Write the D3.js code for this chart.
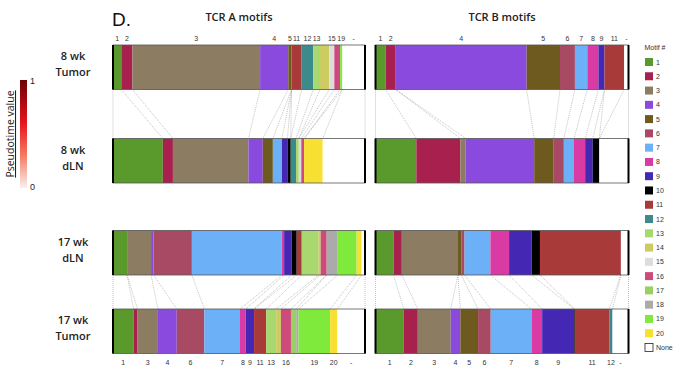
<!DOCTYPE html>
<html><head><meta charset="utf-8">
<script src="https://cdn.jsdelivr.net/npm/d3@7"></script>
<style>body{margin:0;background:#fff}svg{display:block}</style>
</head><body>
<script>
// ---- DATA ----
const motifs = ["1","2","3","4","5","6","7","8","9","10","11","12","13","14","15","16","17","18","19","20","None"];
const motifColors = ["#5a9a2c","#a8204e","#8c7c62","#8b4ade","#6e5a1e","#a84a64","#6cb0f8","#da3aa4","#4428b4","#000000","#a83a3a","#3c8a8c","#a8d870","#cccc62","#dcdcdc","#cc4a7c","#9ad062","#aaaaaa","#80ea3c","#f8e032","#ffffff"];
const rows = ["8 wk Tumor","8 wk dLN","17 wk dLN","17 wk Tumor"];
const rowLabels = [["8 wk","Tumor"],["8 wk","dLN"],["17 wk","dLN"],["17 wk","Tumor"]];
const chains = ["TCR A motifs","TCR B motifs"];
//                 1    2    3    4    5    6    7    8    9   10   11   12   13   14   15   16   17   18   19   20  None
const tcrA_8wkTumor  = [3.3,4.4,50.8,11.2,1.3,0,  0,  0,  0,  0,  4.0,4.6,2.7,3.7,2.0,2.3,0,  0,  0.9,0,  9.0];
const tcrA_8wkDLN    = [19.8,4.0,30.0,5.7,4.0,0,  3.6,0,  2.2,1.3,0,  2.1,1.1,0,  1.0,1.1,0,  0,  0,  7.4,16.8];
const tcrA_17wkDLN   = [5.6,0,  9.5,1.0,0,  15.2,35.7,0.9,3.0,2.0,2.0,0, 6.6,0.9,0,  2.4,0,  4.4,7.5,2.0,1.3];
const tcrA_17wkTumor = [8.2,1.6,8.1,7.5,0,  11.0,14.2,2.3,3.3,0, 4.8,0,  4.0,1.9,0,  4.0,2.1,0.9,12.6,2.9,11.0];
const tcrB_8wkTumor  = [4.0,4.0,0,  51.8,13.2,5.9,4.9,4.4,2.4,0, 7.8,0,  0,  0,  0,  0,  0,  0,  0,  0,  1.7];
const tcrB_8wkDLN    = [16.1,17.4,2.1,27.0,7.7,4.0,4.0,4.4,3.0,2.6,0,0,  0,  0,  0,  0,  0,  0,  0,  0,  11.5];
const tcrB_17wkDLN   = [7.1,3.3,22.2,0,  1.3,1.3,10.2,7.4,8.9,3.3,32.0,0,0,  0,  0,  0,  0,  0,  0,  0,  3.0];
const tcrB_17wkTumor = [11.2,5.5,13.0,3.8,7.0,5.0,16.1,4.2,12.6,0.3,13.6,1.3,0,0,  0,  0,  0,  0,  0,  0,  6.3];
const topLabelsA = ["1","2","3","4","5","11","12","13","15","19","None"];
const topLabelsB = ["1","2","4","5","6","7","8","9","11","None"];
const bottomLabelsA = ["1","3","4","6","7","8","9","11","13","16","19","20","None"];
const bottomLabelsB = ["1","2","3","4","5","6","7","8","9","11","12","None"];
const pairs = [[0,1],[2,3]];

const data = {
  "TCR A motifs": [tcrA_8wkTumor, tcrA_8wkDLN, tcrA_17wkDLN, tcrA_17wkTumor],
  "TCR B motifs": [tcrB_8wkTumor, tcrB_8wkDLN, tcrB_17wkDLN, tcrB_17wkTumor]
};
const labelSets = {
  "TCR A motifs": [topLabelsA, bottomLabelsA],
  "TCR B motifs": [topLabelsB, bottomLabelsB]
};

// ---- LAYOUT ----
const W = 688, H = 387;
const svg = d3.select("body").append("svg").attr("width", W).attr("height", H);
const font = "'Open Sans', 'Liberation Sans', Arial, sans-serif";
const font2 = "'Liberation Sans', Arial, sans-serif";

const color = d3.scaleOrdinal(motifs, motifColors);
const panelX = d3.scaleOrdinal(chains, [[113, 365], [375.5, 628.5]]);
const rowY = d3.scaleOrdinal(rows, [45, 138.5, 230.5, 309]);
const barH = 44.5;

function segs(vals, x) {
  const total = d3.sum(vals);
  let acc = 0;
  return motifs.map((m, i) => {
    const s = acc; acc += vals[i];
    return {m, v: vals[i], x0: x(s / total), x1: x(acc / total)};
  });
}

// headline
svg.append("text").attr("x", 112).attr("y", 26).attr("font-family", font2)
  .attr("font-size", 19).attr("fill", "#111").text("D.");

chains.forEach(ch => {
  const [xa, xb] = panelX(ch);
  const x = d3.scaleLinear().domain([0, 1]).range([xa, xb]);
  svg.append("text").attr("x", (xa + xb) / 2).attr("y", 21).attr("text-anchor", "middle")
    .attr("font-family", font).attr("font-size", 11).attr("font-weight", 600).attr("fill", "#222").text(ch);

  const rowSegs = data[ch].map(v => segs(v, x));

  // connectors
  pairs.forEach(([a, b]) => {
    const yTop = rowY(rows[a]) + barH, yBot = rowY(rows[b]);
    const lines = [{t: xa, b: xa}].concat(motifs.map((m, i) => ({t: rowSegs[a][i].x1, b: rowSegs[b][i].x1, m, keep: data[ch][a][i] > 0 || data[ch][b][i] > 0})).filter(d => d.keep));
    svg.append("g").selectAll("line").data(lines).join("line")
      .attr("x1", d => d.t).attr("y1", yTop).attr("x2", d => d.b).attr("y2", yBot)
      .attr("stroke", "#999").attr("stroke-width", 0.6).attr("stroke-dasharray", "1,1");
  });

  rows.forEach((r, ri) => {
    const y0 = rowY(r);
    const g = svg.append("g");
    g.selectAll("rect.seg").data(rowSegs[ri].filter(d => d.v > 0)).join("rect")
      .attr("class", "seg").attr("x", d => d.x0).attr("y", y0)
      .attr("width", d => d.x1 - d.x0).attr("height", barH)
      .attr("fill", d => color(d.m));
    g.append("rect").attr("x", xa).attr("y", y0).attr("width", xb - xa).attr("height", barH)
      .attr("fill", "none").attr("stroke", "#555").attr("stroke-width", 0.8);
    g.selectAll("line.side").data([xa, xb]).join("line").attr("class", "side")
      .attr("x1", d => d).attr("x2", d => d).attr("y1", y0).attr("y2", y0 + barH)
      .attr("stroke", "#000").attr("stroke-width", 2);
  });

  // motif labels above first row, below last row
  const [topL, botL] = labelSets[ch];
  svg.append("g").selectAll("text").data(rowSegs[0].filter(d => topL.includes(d.m))).join("text")
    .attr("x", d => (d.x0 + d.x1) / 2).attr("y", 41).attr("text-anchor", "middle")
    .attr("font-family", font2).attr("font-size", 7).attr("fill", "#333")
    .text(d => d.m === "None" ? "-" : d.m);
  svg.append("g").selectAll("text").data(rowSegs[3].filter(d => botL.includes(d.m))).join("text")
    .attr("x", d => (d.x0 + d.x1) / 2).attr("y", 365).attr("text-anchor", "middle")
    .attr("font-family", font2).attr("font-size", 7).attr("fill", "#333")
    .text(d => d.m === "None" ? "-" : d.m);
});

// row labels
rows.forEach((r, ri) => {
  const cy = rowY(r) + barH / 2 - 4;
  const t = svg.append("text").attr("x", 73).attr("text-anchor", "middle")
    .attr("font-family", font).attr("font-size", 11).attr("font-weight", 600).attr("fill", "#222");
  t.append("tspan").attr("x", 73).attr("y", cy - 3).text(rowLabels[ri][0]);
  t.append("tspan").attr("x", 73).attr("y", cy + 13).text(rowLabels[ri][1]);
});

// legend
const lg = svg.append("g");
lg.append("text").attr("x", 655).attr("y", 50).attr("text-anchor", "middle")
  .attr("font-family", font2).attr("font-size", 7).attr("fill", "#333").text("Motif #");
const ly = d3.scalePoint().domain(motifs).range([62, 347.5]);
const li = lg.selectAll("g.item").data(motifs).join("g").attr("class", "item")
  .attr("transform", d => `translate(645,${ly(d)})`);
li.append("rect").attr("x", 0).attr("y", -4).attr("width", 8).attr("height", 8)
  .attr("fill", d => color(d)).attr("stroke", d => d === "None" ? "#222" : "none").attr("stroke-width", 0.8);
li.append("text").attr("x", 11).attr("y", 2.5).attr("font-family", font2).attr("font-size", 7)
  .attr("fill", "#333").text(d => d);

// colorbar
const defs = svg.append("defs");
const grad = defs.append("linearGradient").attr("id", "pt").attr("x1", 0).attr("y1", 0).attr("x2", 0).attr("y2", 1);
[[0, "#6e0004"], [0.4, "#e8141c"], [0.7, "#f47c62"], [1, "#f8f0f0"]].forEach(([o, c]) =>
  grad.append("stop").attr("offset", o).attr("stop-color", c));
const cb = d3.scaleLinear().domain([0, 1]).range([188, 80]);
svg.append("rect").attr("x", 20).attr("y", cb(1)).attr("width", 7).attr("height", cb(0) - cb(1))
  .attr("fill", "url(#pt)");
svg.append("g").selectAll("text").data([1, 0]).join("text")
  .attr("x", 30).attr("y", d => cb(d) + (d === 1 ? 4 : 2)).attr("font-family", font2)
  .attr("font-size", 9).attr("fill", "#222").text(d => d);
svg.append("text").attr("transform", "translate(14,134) rotate(-90)").attr("text-anchor", "middle")
  .attr("font-family", font).attr("font-size", 10.5).attr("fill", "#222")
  .attr("text-decoration", "underline").text("Pseudotime value");
</script>
</body></html>
